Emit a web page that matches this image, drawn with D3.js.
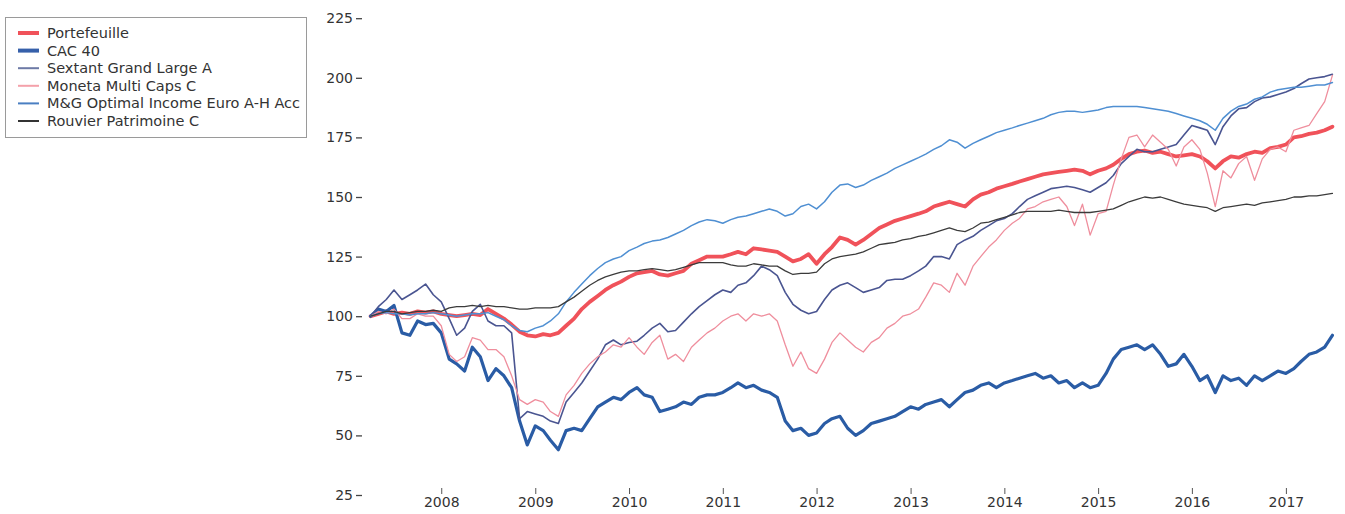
<!DOCTYPE html>
<html>
<head>
<meta charset="utf-8">
<script src="https://cdn.jsdelivr.net/npm/d3@7"></script>
<style>
  html, body { margin: 0; padding: 0; background: #fff; }
  svg { display: block; }
  text { font-family: "DejaVu Sans", Verdana, sans-serif; }
</style>
</head>
<body>
<svg id="chart" width="1345" height="514"></svg>
<script>
// ---- Data (monthly, Apr 2007 -> Jul 2017) ----
const startMonth = new Date(2007, 3, 1);
const endMonth = new Date(2017, 7, 1);
const months = d3.timeMonth.range(startMonth, endMonth);

const seriesNames = ["Portefeuille", "CAC 40", "Sextant Grand Large A", "Moneta Multi Caps C", "M&G Optimal Income Euro A-H Acc", "Rouvier Patrimoine C"];

const portefeuille = [100,101,102,101,101.5,101,102,101.5,102,101,
  100.5,100,100.5,101,100.5,103,101,99,96.5,93.5,
  92,91.5,92.5,92,93,96,99,103,106,108.5,
  111,113,114.5,116.5,118,118.5,119,117.5,117,118,
  119,122,123.5,125,125,125,126,127,126,128.5,
  128,127.5,127,125,123,124,126,122,126,129,
  133,132,130,132,134.5,137,138.5,140,141,142,
  143,144,146,147,148,147,146,149,151,152,
  153.5,154.5,155.5,156.5,157.5,158.5,159.5,160,160.5,161,
  161.5,161,159.5,161,162,163.5,166,168,169,169.5,
  168.5,169,168,167,167.5,168,167,165,162,165,
  167,166.5,168,169,168.5,170.5,171,172,175,175.5,
  176.5,177,178,179.5];

const cac40 = [100,103,102,104.5,93,92,98,96.5,97,93,
  82,80,77,87,83,73,78,75,70,56,
  46,54,52,48,44,52,53,52,57,62,
  64,66,65,68,70,67,66,60,61,62,
  64,63,66,67,67,68,70,72,70,71,
  69,68,66,56,52,53,50,51,55,57,
  58,53,50,52,55,56,57,58,60,62,
  61,63,64,65,62,65,68,69,71,72,
  70,72,73,74,75,76,74,75,72,73,
  70,72,70,71,76,82,86,87,88,86,
  88,84,79,80,84,79,73,75,68,75,
  73,74,71,75,73,75,77,76,78,81,
  84,85,87,92];

const sextant = [100,104,107,111,107,109,111,113.5,109,106,
  99,92,95,102,105,98,96,96,93,57,
  60,59,58,56,55,64,68,72,77,82,
  88,90,88,89,89.5,92,95,97,93.5,94,
  97.5,101,104,106.5,109,111,110,113,114,117,
  121,119.5,117,110,105,102.5,101,102,107,111,
  113,114,112,110,111,112,115,115.5,115.5,117,
  119,121,125,125,124,130,132,133.5,136,138,
  140,141,143,146,149,150.5,152,153.5,154,154.5,
  154,153,152,154,156,159,164,167,170,169,
  169,170,171,172,176,180,179,178,172,179.5,
  184,187,187.5,190,191.5,192,193,194,195.5,197.5,
  199.5,200,200.5,201.5];

const moneta = [100,102,101,103,99,99,101,100,100,96,
  84,81,83,91,90,86,86,83,75,65,
  63,65,64,60,58,67,71,76,80,83,
  85,88,87,91,87,84,89,92,82,84,
  81,87,90,93,95,98,100,101,98,101,
  100,101,98,88,79,85,78,76,82,89,
  93,90,87,85,89,91,95,97,100,101,
  103,108,114,113,110,118,113,121,125,129,
  132,136,139,141,145,146,148,149,150,146,
  138,147,134,143,144,155,166,175,176,171,
  176,173,170,163,171,174,170,160,146,161,
  158,164,167,157,166,170,171,169,178,179,
  180,185,190,201];

const mg = [100,101,101.5,101,101,100.5,101,101,101.5,101,
  100.5,100,100.5,101,101,101.5,100,98.5,96,94,
  93.5,95,96,98,101,106,110,113.5,117,120,
  122.5,124,125,127.5,129,130.5,131.5,132,133,134.5,
  136,138,139.5,140.5,140,139,140.5,141.5,142,143,
  144,145,144,142,143,146,147,145,148,152,
  155,155.5,154,155,157,158.5,160,162,163.5,165,
  166.5,168,170,171.5,174,173,170.5,172.5,174,175.5,
  177,178,179,180,181,182,183,184.5,185.5,186,
  186,185.5,186,186.5,187.5,188,188,188,188,187.5,
  187,186.5,186,185,184,183,182,180.5,178,183,
  186,188,189,191,192,194,195,195.5,196,196,
  196.5,197,197,198];

const rouvier = [100,101,102,102,101,101.5,102,102,102.5,102,
  103.5,104,104,104.5,104,104.5,104,104,103.5,103,
  103,103.5,103.5,103.5,104,106,108,110.5,113,115,
  116.5,117.5,118.5,119,119,119.5,120,119.5,119,119.5,
  120.5,121.5,122.5,122.5,122.5,122.5,121.5,121,121,122,
  121.5,121,121,119,117.5,118,118,118.5,122,124,
  125,125.5,126,127,128.5,130,130.5,131,132,132.5,
  133.5,134,135,136,137,136,135.5,137,139,139.5,
  140.5,141.5,142.5,143.5,144,144,144,144,144.5,144,
  143.5,143.5,143.5,144,144.5,145,146.5,148,149,150,
  149.5,150,149,148,147,146.5,146,145.5,144,145.5,
  146,146.5,147,146.5,147.5,148,148.5,149,150,150,
  150.5,150.5,151,151.5];

const yTicks = [25, 50, 75, 100, 125, 150, 175, 200, 225];

// ---- Styling ----
const seriesValues = [portefeuille, cac40, sextant, moneta, mg, rouvier];
const lineColors = ["#f0525a", "#2a5ca5", "#4a5591", "#ef8e9d", "#4f8fd2", "#3b3b3b"];
const lineWidths = [3.8, 3.2, 1.6, 1.3, 1.5, 1.3];
const legendColors = ["#f0525a", "#3660aa", "#6d7aa6", "#f4a1aa", "#4a7fc2", "#333333"];
const legendWidths = [4, 4, 2, 2, 2, 2];

const svg = d3.select("#chart");
svg.append("rect").attr("width", 1345).attr("height", 514).attr("fill", "#fff");

const x = d3.scaleTime()
  .domain([months[0], months[months.length - 1]])
  .range([370.6, 1332.4]);
const y = d3.scaleLinear().domain([25, 225]).range([495, 18.2]);

// Axes
const yAxis = d3.axisLeft(y).tickValues(yTicks).tickSize(6).tickPadding(3);
const gy = svg.append("g").attr("transform", "translate(362,0)").call(yAxis);
gy.select(".domain").remove();
gy.selectAll(".tick line").attr("stroke", "#444").attr("stroke-width", 1.3);
gy.selectAll(".tick text").attr("fill", "#333").attr("font-size", 14)
  .attr("font-family", "'DejaVu Sans', Verdana, sans-serif");

const xAxis = d3.axisBottom(x).ticks(d3.timeYear.every(1)).tickFormat(d3.timeFormat("%Y"))
  .tickSize(6).tickPadding(3);
const gx = svg.append("g").attr("transform", "translate(0,488)").call(xAxis);
gx.select(".domain").remove();
gx.selectAll(".tick line").attr("stroke", "#555").attr("stroke-width", 1);
gx.selectAll(".tick text").attr("fill", "#333").attr("font-size", 14)
  .attr("font-family", "'DejaVu Sans', Verdana, sans-serif");

// Lines
const line = d3.line()
  .x((d, i) => x(months[i]))
  .y(d => y(d))
  .curve(d3.curveLinear);

const gLines = svg.append("g");
seriesValues.forEach((vals, k) => {
  gLines.append("path")
    .datum(vals)
    .attr("fill", "none")
    .attr("stroke", lineColors[k])
    .attr("stroke-width", lineWidths[k])
    .attr("stroke-linejoin", "round")
    .attr("stroke-linecap", "round")
    .attr("d", line);
});

// Legend
const lg = svg.append("g");
lg.append("rect")
  .attr("x", 5.5).attr("y", 17.5).attr("width", 301).attr("height", 120)
  .attr("fill", "#fff").attr("stroke", "#9a9a9a").attr("stroke-width", 1);
seriesNames.forEach((name, k) => {
  const cy = 33 + k * 17.6;
  lg.append("line")
    .attr("x1", 18).attr("x2", 39).attr("y1", cy).attr("y2", cy)
    .attr("stroke", legendColors[k]).attr("stroke-width", legendWidths[k]);
  lg.append("text")
    .attr("x", 47).attr("y", cy).attr("dy", "0.35em")
    .attr("font-size", 14.5).attr("fill", "#333")
    .text(name);
});
</script>
</body>
</html>
